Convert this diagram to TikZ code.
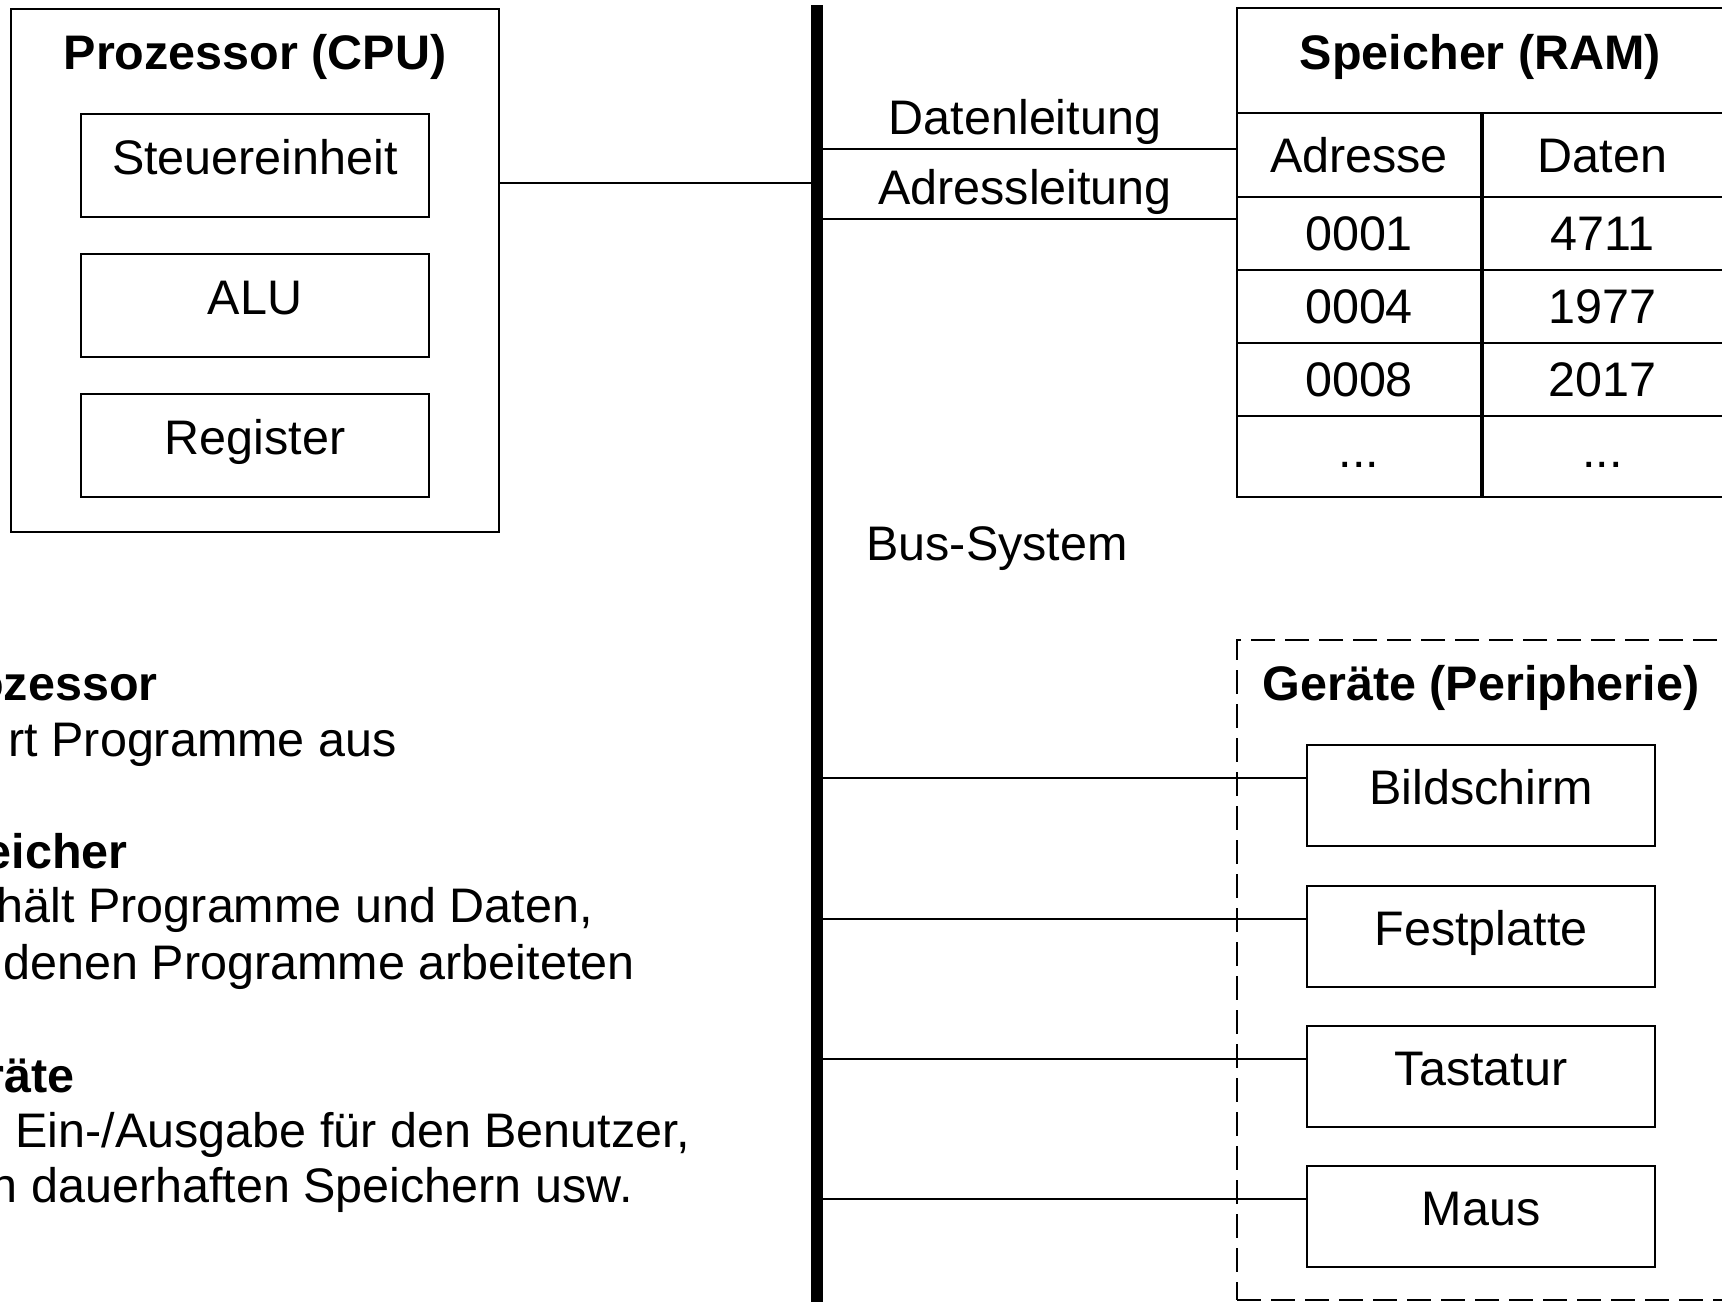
\documentclass[tikz,border=0pt]{standalone}
\usepackage{fontspec}
\setmainfont{Liberation Sans}
\usetikzlibrary{calc}
\newcommand\diafont{\fontsize{24.25pt}{29pt}\selectfont}
\tikzset{
  ln/.style={line width=1pt},
  box/.style={draw, line width=1pt, inner sep=0pt, font=\diafont, text height=17.4pt, text depth=8pt},
  devbox/.style={box, minimum width=174pt, minimum height=50.5pt},
  cpubox/.style={box, minimum width=174pt, minimum height=51.5pt},
  cell/.style={draw, line width=1pt, inner sep=0pt, font=\diafont, text height=17.4pt, text depth=0pt},
  cellA/.style={cell, minimum width=122pt},
  cellB/.style={cell, minimum width=121.5pt},
  lbl/.style={inner sep=0pt, font=\diafont},
  hdr/.style={inner sep=0pt, font=\diafont\bfseries},
}
\begin{document}
\begin{tikzpicture}[x=0.5pt,y=-0.5pt]
\useasboundingbox (0,0) rectangle (1722,1301);
\clip (0,0) rectangle (1722,1301);

% CPU
\node[draw, ln, inner sep=0pt, minimum width=244pt, minimum height=261.5pt] (cpu) at (255,270.5) {};
\node[hdr, anchor=base] (cputitle) at (255,69) {Prozessor (CPU)};
\node[cpubox] (steuer) at (255,165.5) {Steuereinheit};
\node[cpubox] (alu) at (255,305.5) {ALU};
\node[cpubox] (reg) at (255,445.5) {Register};

% RAM table
\node[cell, text depth=8pt, font=\diafont\bfseries, minimum width=243.5pt, minimum height=52.5pt] (ramtitle) at (1480.5,60.5) {Speicher (RAM)};
\node[cellA, minimum height=42pt] (hA) at (1359,155) {Adresse};
\node[cellB, minimum height=42pt] (hB) at (1602.5,155) {Daten};
\node[cellA, minimum height=36.5pt] (r1A) at (1359,233.5) {0001};
\node[cellB, minimum height=36.5pt] (r1B) at (1602.5,233.5) {4711};
\node[cellA, minimum height=36.5pt] (r2A) at (1359,306.5) {0004};
\node[cellB, minimum height=36.5pt] (r2B) at (1602.5,306.5) {1977};
\node[cellA, minimum height=36.5pt] (r3A) at (1359,379.5) {0008};
\node[cellB, minimum height=36.5pt] (r3B) at (1602.5,379.5) {2017};
\node[cellA, minimum height=40.5pt, text depth=6pt] (r4A) at (1359,456.5) {...};
\node[cellB, minimum height=40.5pt, text depth=6pt] (r4B) at (1602.5,456.5) {...};
\draw[line width=2pt] (hA.north east) -- (r4A.south east);

% Devices
\node[draw, ln, dash pattern=on 12pt off 5pt, inner sep=0pt, minimum width=244pt, minimum height=330pt] (geraete) at (1481,970) {};
\node[hdr, anchor=base] (geraetetitle) at (1481,700) {Geräte (Peripherie)};
\node[devbox] (bild) at (1481,795.5) {Bildschirm};
\node[devbox] (fest) at (1481,936) {Festplatte};
\node[devbox] (tast) at (1481,1076.5) {Tastatur};
\node[devbox] (maus) at (1481,1216.5) {Maus};

% bus
\node[fill=black, inner sep=0pt, minimum width=6pt, minimum height=660pt, anchor=north] (bus) at (817,5) {};

% connectors
\coordinate (pcpu) at ($(cpu.north east)!1/3!(cpu.south east)$);
\draw[ln] (pcpu) -- (pcpu -| bus.center);
\draw[ln] (bus.center |- 0,149) -- (hA.west |- 0,149);
\draw[ln] (bus.center |- 0,219) -- (r1A.west |- 0,219);
\foreach \d in {bild,fest,tast,maus}{
  \coordinate (p\d) at ($(\d.north west)!1/3!(\d.south west)$);
  \draw[ln] (p\d -| bus.center) -- (p\d);
}
\node[fill=black, inner sep=0pt, minimum width=6pt, minimum height=660pt, anchor=north] at (bus.north) {};

% bus labels
\node[lbl, anchor=base] (datl) at (1025,134) {Datenleitung};
\node[lbl, anchor=base] (adrl) at (1025,204) {Adressleitung};
\node[lbl, anchor=base west] (bussys) at (866,560) {Bus-System};

% legend text (cut at the left edge, as in the reference)
\node[hdr, anchor=base east] (l1) at (158,700) {ozessor};
\node[lbl, anchor=base east] (l2) at (397,756) {rt Programme aus};
\node[hdr, anchor=base east] (l3) at (128,868) {eicher};
\node[lbl, anchor=base east] (l4) at (593,922) {hält Programme und Daten,};
\node[lbl, anchor=base east] (l5) at (635,979) {denen Programme arbeiteten};
\node[hdr, anchor=base east] (l6) at (75,1092) {räte};
\node[lbl, anchor=base east] (l7) at (690,1147) {Ein-/Ausgabe für den Benutzer,};
\node[lbl, anchor=base east] (l8) at (633,1202) {n dauerhaften Speichern usw.};
\end{tikzpicture}
\end{document}
